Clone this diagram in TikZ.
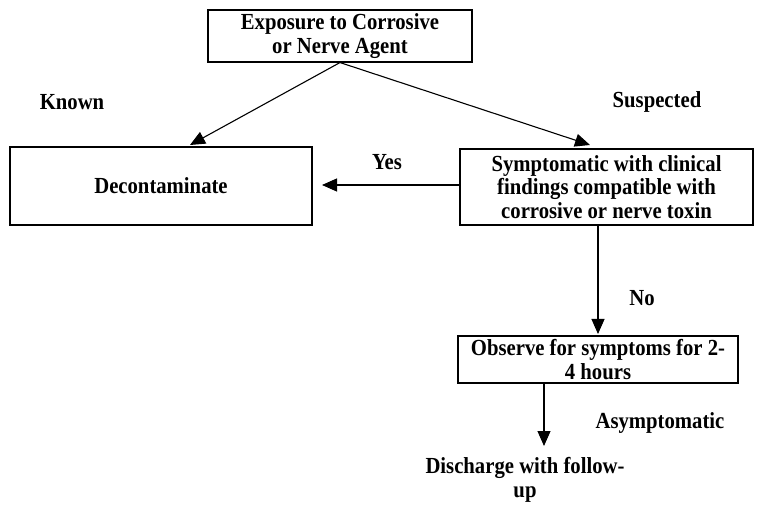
\documentclass[tikz,border=0pt]{standalone}
\usepackage{fontspec}
\setmainfont{Liberation Serif}[FakeStretch=0.9]
\usetikzlibrary{arrows.meta}
\begin{document}
\begin{tikzpicture}[x=1pt,y=1pt,
  every node/.style={font=\bfseries\fontsize{23}{23.5}\selectfont, align=center, inner sep=0pt},
  box/.style={draw, line width=1.1pt},
  lbl/.style={},
  arr/.style={-{Triangle[length=15pt,width=13pt]}, line width=1.1pt}]
\useasboundingbox (0,0) rectangle (757,506);
\node[box, minimum width=264, minimum height=52] (top) at (340,470) {Exposure to Corrosive\\or Nerve Agent};
\node[box, minimum width=302, minimum height=78] (decon) at (161,320) {Decontaminate};
\node[box, minimum width=293, minimum height=76] (symp) at (606.5,319) {Symptomatic with clinical\\findings compatible with\\corrosive or nerve toxin};
\node[box, minimum width=280, minimum height=47] (obs) at (598,146.5) {Observe for symptoms for 2-\\4 hours};
\node (dis) at (525,26) {Discharge with follow-\\up};
\node[lbl] (known) at (72,404) {Known};
\node[lbl] (susp) at (657,404) {Suspected};
\node[lbl] (yes) at (387,344) {Yes};
\node[lbl] (no) at (642,208) {No};
\node[lbl] (asym) at (660,83) {Asymptomatic};
\coordinate (tl) at (190,361);
\coordinate (tr) at (590,361);
\coordinate (yt) at (322,321);
\coordinate (nt) at (598,172);
\coordinate (at) at (544,60);
\draw[arr] (top.south) -- (tl);
\draw[arr] (top.south) -- (tr);
\draw[arr] (symp.west |- yt) -- (yt);
\draw[arr] (symp.south -| nt) -- (nt);
\draw[arr] (obs.south -| at) -- (at);
\end{tikzpicture}
\end{document}
